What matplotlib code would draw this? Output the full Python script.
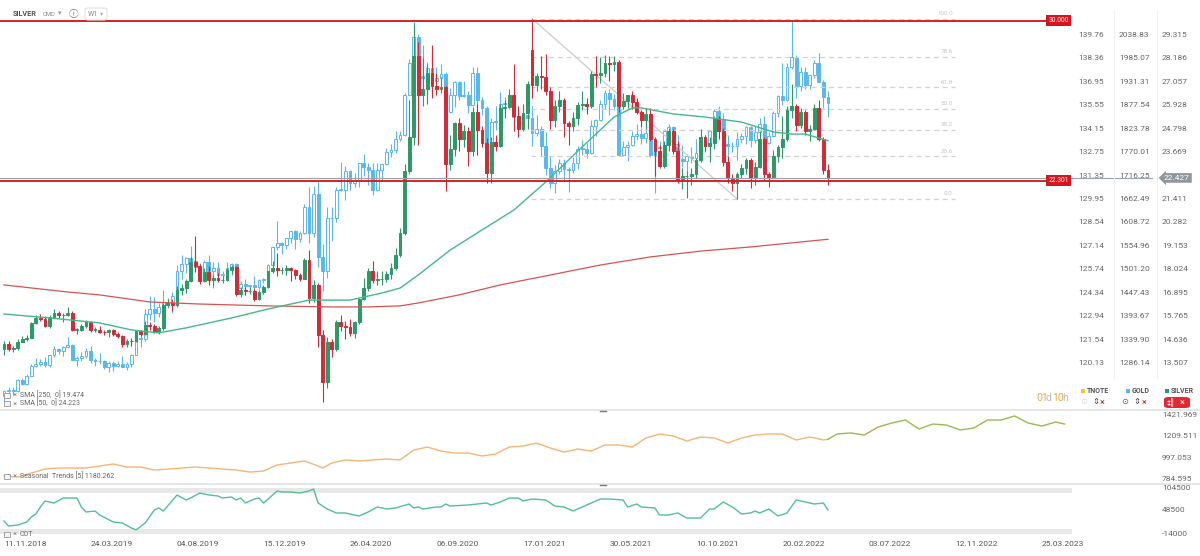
import matplotlib
matplotlib.use("Agg")
import matplotlib.pyplot as plt
from matplotlib import transforms
from matplotlib.lines import Line2D
from matplotlib.patches import FancyBboxPatch, Rectangle

# weekly candles, week 0 = week of 11.11.2018, last = week of 01.05.2022
silver_open = [14.20, 14.42, 14.18, 14.21, 14.53, 14.65, 14.72,
    15.45, 15.70, 15.63, 15.30, 15.72, 15.92, 15.80, 15.80, 15.90, 15.10, 15.12, 15.28, 15.50, 15.10, 15.10, 15.00, 14.98, 15.10, 14.92, 14.80,
    14.40, 14.58, 14.55, 15.05, 14.90, 15.35, 15.30, 15.00, 15.20, 16.30, 16.38, 16.30, 17.05, 17.10, 17.48, 18.38, 18.18, 17.48, 17.88, 17.53,
    17.60, 17.50, 17.52, 18.00, 18.14, 16.81, 17.04, 16.97, 16.98, 16.57, 16.92, 17.17,
    17.93, 18.10, 17.98, 18.00, 18.07, 18.00, 17.73, 17.58, 18.48, 16.62, 17.25, 14.85, 12.60, 14.50, 14.20, 15.50, 15.30, 15.25, 14.95, 15.48,
    16.60, 17.12, 17.95, 17.50, 17.55, 17.58, 17.78, 18.10, 18.72, 19.75, 22.75, 24.40, 28.30, 26.40, 26.70, 27.50, 26.85, 26.70, 26.80, 23.10,
    23.80, 25.05, 24.30, 24.70, 23.70, 25.60, 24.75, 24.10, 22.65, 24.15, 23.95, 25.80,
    25.85, 26.40, 25.40, 24.80, 25.55, 28.60, 26.90, 27.35, 27.30, 26.60, 25.20, 25.90, 26.20, 25.05, 24.95, 25.30, 25.95, 26.00, 25.90, 27.45,
    27.40, 27.50, 27.95, 27.90, 28.00, 25.90, 26.15, 26.40, 26.10, 25.60, 25.20, 25.50, 24.30, 23.70, 23.00, 24.00, 24.70, 23.70, 22.35, 22.50,
    22.50, 22.60, 23.30, 24.40, 23.95, 24.10, 25.30, 24.70, 23.20, 22.40, 22.20, 22.60, 22.90,
    23.30, 22.40, 22.95, 24.30, 22.60, 22.45, 23.50, 23.90, 24.30, 25.70, 25.90, 25.00, 25.60, 24.70, 24.80, 25.80, 24.30, 22.80]
silver_high = [14.55, 14.55, 14.35, 14.65, 14.80, 14.85, 15.50,
    15.80, 15.85, 15.75, 15.80, 16.10, 16.00, 15.90, 16.20, 16.00, 15.20, 15.40, 15.60, 15.55, 15.25, 15.30, 15.10, 15.15, 15.15, 14.98, 14.85,
    14.65, 14.70, 15.10, 15.10, 15.55, 15.50, 15.40, 15.30, 16.40, 16.60, 16.60, 17.20, 17.30, 17.55, 18.60, 19.65, 18.30, 18.10, 18.20, 17.75,
    17.85, 17.70, 18.10, 18.25, 18.20, 17.15, 17.15, 17.15, 17.10, 17.05, 17.25, 17.95,
    18.40, 18.80, 18.15, 18.25, 18.15, 18.05, 17.85, 18.55, 18.95, 17.50, 17.35, 15.10, 14.75, 14.65, 15.60, 15.80, 15.55, 15.65, 15.55, 16.65,
    17.60, 18.10, 18.40, 17.95, 17.95, 17.95, 18.35, 19.05, 20.00, 23.10, 26.20, 29.85, 29.00, 28.20, 27.90, 28.85, 27.50, 27.30, 26.85, 24.50,
    25.10, 25.30, 25.00, 24.90, 25.85, 26.00, 24.95, 24.35, 24.40, 24.50, 26.00, 26.20,
    26.70, 27.90, 25.90, 26.00, 27.10, 30.10, 27.50, 28.30, 28.40, 26.80, 26.20, 26.60, 26.30, 25.15, 25.60, 26.10, 26.60, 26.30, 27.60, 28.30,
    28.25, 28.35, 28.30, 28.30, 28.10, 26.50, 26.40, 26.60, 26.30, 25.70, 25.80, 25.80, 24.40, 24.00, 24.20, 24.85, 24.80, 24.20, 22.90, 22.75,
    22.90, 23.40, 24.80, 24.50, 24.40, 25.40, 25.40, 24.85, 23.50, 22.60, 22.70, 23.10, 23.40,
    23.40, 23.20, 24.70, 24.40, 22.70, 23.75, 24.00, 25.40, 25.90, 26.95, 26.00, 25.80, 25.70, 25.00, 26.00, 26.20, 24.40, 23.10]
silver_low = [13.90, 14.10, 14.05, 14.15, 14.50, 14.55, 14.70,
    15.40, 15.55, 15.25, 15.20, 15.70, 15.70, 15.50, 15.75, 15.05, 14.90, 15.05, 15.20, 15.00, 15.00, 14.95, 14.85, 14.75, 14.80, 14.70, 14.30,
    14.30, 14.35, 14.50, 14.80, 14.85, 15.10, 14.95, 14.90, 15.10, 16.20, 16.00, 16.20, 16.80, 16.90, 17.40, 17.90, 17.30, 17.40, 17.25, 17.20,
    17.40, 17.35, 17.45, 17.80, 16.75, 16.70, 16.80, 16.85, 16.50, 16.55, 16.85, 17.10,
    17.85, 17.70, 17.80, 17.75, 17.45, 17.55, 17.45, 17.55, 16.40, 16.45, 14.30, 11.64, 12.30, 13.80, 14.10, 15.05, 14.65, 14.80, 14.70, 15.40,
    16.55, 17.00, 17.35, 17.25, 17.25, 17.40, 17.55, 18.00, 18.60, 19.70, 22.60, 24.00, 24.00, 25.90, 26.00, 26.30, 26.40, 26.50, 21.80, 22.80,
    23.50, 23.70, 23.90, 23.00, 23.50, 23.55, 23.90, 22.20, 22.20, 23.70, 23.90, 25.30,
    25.80, 24.70, 24.40, 24.70, 24.80, 26.30, 26.60, 26.70, 26.40, 24.80, 24.90, 25.60, 24.40, 24.00, 24.70, 25.00, 25.70, 25.50, 25.80, 26.80,
    27.00, 27.30, 27.10, 27.60, 25.60, 25.75, 25.80, 25.75, 25.50, 24.90, 24.80, 24.20, 22.50, 22.90, 22.90, 23.70, 23.60, 22.20, 21.90, 21.45,
    22.10, 22.40, 23.20, 23.70, 23.20, 23.80, 24.30, 23.00, 22.20, 21.80, 21.42, 22.40, 22.60,
    21.95, 22.10, 22.90, 22.30, 22.00, 22.40, 23.20, 23.40, 24.20, 25.30, 24.70, 24.85, 24.50, 24.20, 24.75, 24.20, 22.60, 22.10]
silver_close = [14.42, 14.18, 14.21, 14.53, 14.65, 14.72, 15.45,
    15.70, 15.63, 15.30, 15.72, 15.92, 15.80, 15.80, 15.90, 15.10, 15.12, 15.28, 15.50, 15.10, 15.10, 15.00, 14.98, 15.10, 14.92, 14.80, 14.40,
    14.58, 14.55, 15.05, 14.90, 15.35, 15.30, 15.00, 15.20, 16.30, 16.38, 16.30, 17.05, 17.10, 17.48, 18.38, 18.18, 17.48, 17.88, 17.53, 17.60,
    17.50, 17.52, 18.00, 18.14, 16.81, 17.04, 16.97, 16.98, 16.57, 16.92, 17.17, 17.93,
    18.10, 17.98, 18.00, 18.07, 18.00, 17.73, 17.58, 18.48, 16.62, 17.25, 14.85, 12.60, 14.50, 14.20, 15.50, 15.30, 15.25, 14.95, 15.48, 16.60,
    17.12, 17.95, 17.50, 17.55, 17.58, 17.78, 18.10, 18.72, 19.75, 22.75, 24.40, 28.30, 26.40, 26.70, 27.50, 26.85, 26.70, 26.80, 23.10, 23.80,
    25.05, 24.30, 24.70, 23.70, 25.60, 24.75, 24.10, 22.65, 24.15, 23.95, 25.80, 25.85,
    26.40, 25.40, 24.80, 25.55, 26.95, 26.90, 27.35, 27.30, 26.60, 25.20, 25.90, 26.20, 25.05, 24.95, 25.30, 25.95, 26.00, 25.90, 27.45, 27.40,
    27.50, 27.95, 27.90, 28.00, 25.90, 26.15, 26.40, 26.10, 25.60, 25.20, 25.50, 24.30, 23.70, 23.00, 24.00, 24.70, 23.70, 22.35, 22.50, 22.50,
    22.60, 23.30, 24.40, 23.95, 24.10, 25.30, 24.70, 23.20, 22.40, 22.20, 22.60, 22.90, 23.30,
    22.40, 22.95, 24.30, 22.60, 22.45, 23.50, 23.90, 24.30, 25.70, 25.90, 25.00, 25.60, 24.70, 24.80, 25.80, 24.30, 22.80, 22.43]

gold_open = [1210, 1222, 1223, 1222, 1248, 1238, 1257,
    1280, 1285, 1288, 1282, 1304, 1318, 1314, 1322, 1328, 1294, 1298, 1302, 1313, 1292, 1291, 1290, 1276, 1286, 1279, 1285,
    1277, 1284, 1305, 1341, 1341, 1399, 1409, 1400, 1415, 1426, 1419, 1440, 1497, 1513, 1527, 1520, 1507, 1488, 1517, 1497,
    1505, 1489, 1490, 1505, 1514, 1459, 1468, 1462, 1465, 1460, 1476, 1479,
    1510, 1552, 1561, 1557, 1572, 1589, 1570, 1584, 1643, 1585, 1674, 1530, 1498, 1618, 1620, 1683, 1683, 1727, 1700, 1703,
    1744, 1735, 1730, 1684, 1730, 1743, 1771, 1775, 1799, 1810, 1902, 1975, 2035, 1944, 1940, 1964, 1934, 1941, 1950, 1861,
    1900, 1930, 1899, 1902, 1879, 1951, 1889, 1871, 1788, 1839, 1839, 1881,
    1883, 1898, 1850, 1828, 1856, 1848, 1814, 1824, 1784, 1734, 1700, 1727, 1745, 1732, 1729, 1744, 1777, 1777, 1769, 1831,
    1844, 1881, 1905, 1892, 1877, 1764, 1781, 1787, 1808, 1812, 1802, 1814, 1763, 1780, 1781, 1818, 1828, 1788, 1754, 1750,
    1761, 1757, 1768, 1793, 1783, 1818, 1865, 1846, 1788, 1783, 1783, 1799, 1808,
    1828, 1797, 1817, 1835, 1791, 1807, 1859, 1898, 1889, 1966, 1988, 1921, 1954, 1925, 1946, 1975, 1931, 1897]
gold_high = [1225, 1230, 1230, 1250, 1252, 1262, 1284,
    1298, 1296, 1299, 1305, 1326, 1320, 1326, 1347, 1330, 1302, 1311, 1320, 1325, 1298, 1310, 1293, 1290, 1290, 1291, 1303,
    1289, 1306, 1348, 1358, 1411, 1439, 1438, 1425, 1453, 1435, 1449, 1510, 1535, 1530, 1555, 1557, 1515, 1523, 1535, 1519,
    1517, 1497, 1518, 1516, 1516, 1475, 1478, 1466, 1485, 1480, 1482, 1514,
    1555, 1612, 1564, 1574, 1590, 1592, 1590, 1650, 1689, 1692, 1703, 1560, 1645, 1645, 1690, 1748, 1738, 1730, 1722, 1745,
    1765, 1745, 1745, 1744, 1745, 1780, 1789, 1818, 1818, 1906, 1984, 2075, 2040, 2015, 1977, 2000, 1966, 1973, 1955, 1917,
    1933, 1933, 1933, 1911, 1965, 1966, 1897, 1875, 1848, 1875, 1907, 1896,
    1900, 1959, 1863, 1875, 1875, 1875, 1855, 1830, 1816, 1760, 1740, 1755, 1755, 1736, 1759, 1785, 1797, 1790, 1843, 1846,
    1890, 1913, 1916, 1903, 1880, 1795, 1795, 1818, 1834, 1825, 1832, 1832, 1785, 1795, 1824, 1834, 1831, 1809, 1787, 1765,
    1781, 1800, 1814, 1810, 1818, 1869, 1877, 1860, 1809, 1793, 1816, 1814, 1831,
    1830, 1830, 1848, 1854, 1816, 1865, 1902, 1974, 1975, 2070, 1993, 1966, 1966, 1950, 1982, 1998, 1936, 1910]
gold_low = [1196, 1218, 1212, 1220, 1236, 1235, 1256,
    1276, 1280, 1278, 1276, 1300, 1306, 1302, 1320, 1292, 1280, 1290, 1298, 1287, 1280, 1285, 1272, 1266, 1267, 1276, 1276,
    1269, 1276, 1304, 1322, 1337, 1385, 1381, 1391, 1401, 1413, 1400, 1440, 1480, 1492, 1517, 1506, 1485, 1484, 1485, 1459,
    1484, 1474, 1483, 1487, 1456, 1446, 1457, 1450, 1458, 1456, 1470, 1478,
    1510, 1546, 1536, 1547, 1562, 1548, 1563, 1583, 1562, 1575, 1506, 1451, 1482, 1567, 1610, 1681, 1660, 1682, 1690, 1690,
    1716, 1694, 1671, 1680, 1704, 1741, 1758, 1768, 1795, 1808, 1900, 1963, 1863, 1911, 1902, 1916, 1906, 1934, 1848, 1860,
    1873, 1890, 1896, 1860, 1876, 1850, 1855, 1764, 1776, 1820, 1835, 1855,
    1870, 1836, 1808, 1826, 1831, 1785, 1807, 1760, 1717, 1687, 1676, 1719, 1706, 1678, 1721, 1731, 1763, 1756, 1766, 1808,
    1842, 1870, 1855, 1866, 1761, 1760, 1750, 1784, 1797, 1789, 1790, 1759, 1677, 1772, 1776, 1800, 1782, 1745, 1737, 1721,
    1746, 1750, 1760, 1770, 1758, 1812, 1846, 1780, 1762, 1771, 1753, 1790, 1789,
    1782, 1790, 1806, 1780, 1788, 1807, 1850, 1878, 1887, 1960, 1895, 1910, 1915, 1915, 1940, 1930, 1872, 1850]
gold_close = [1222, 1223, 1222, 1248, 1238, 1257, 1280,
    1285, 1288, 1282, 1304, 1318, 1314, 1322, 1328, 1294, 1298, 1302, 1313, 1292, 1291, 1290, 1276, 1286, 1279, 1285, 1277,
    1284, 1305, 1341, 1341, 1399, 1409, 1400, 1415, 1426, 1419, 1440, 1497, 1513, 1527, 1520, 1507, 1488, 1517, 1497, 1505,
    1489, 1490, 1505, 1514, 1459, 1468, 1462, 1465, 1460, 1476, 1479, 1510,
    1552, 1561, 1557, 1572, 1589, 1570, 1584, 1643, 1585, 1674, 1530, 1498, 1618, 1620, 1683, 1683, 1727, 1700, 1703, 1744,
    1735, 1730, 1684, 1730, 1743, 1771, 1775, 1799, 1810, 1902, 1975, 2035, 1944, 1940, 1964, 1934, 1941, 1950, 1861, 1900,
    1930, 1899, 1902, 1879, 1951, 1889, 1871, 1788, 1839, 1839, 1881, 1883,
    1898, 1850, 1828, 1856, 1848, 1814, 1824, 1784, 1734, 1700, 1727, 1745, 1732, 1729, 1744, 1777, 1777, 1769, 1831, 1844,
    1881, 1905, 1892, 1877, 1764, 1781, 1787, 1808, 1812, 1802, 1814, 1763, 1780, 1781, 1818, 1828, 1788, 1754, 1750, 1761,
    1757, 1768, 1793, 1783, 1818, 1865, 1846, 1788, 1783, 1783, 1799, 1808, 1828,
    1797, 1817, 1835, 1791, 1807, 1859, 1898, 1889, 1966, 1988, 1921, 1954, 1925, 1946, 1975, 1931, 1897, 1883]

# moving averages (week, value)
sma250_week = [0, 14, 21, 32, 43, 58, 72, 80, 87, 91, 100, 109, 120, 131, 142, 153, 164, 175, 181]
sma250_value = [17.27, 16.93, 16.79, 16.45, 16.35, 16.26, 16.21, 16.21, 16.26, 16.40, 16.79, 17.27, 17.75,
                18.23, 18.62, 18.90, 19.10, 19.34, 19.47]
sma50_week = [0, 10, 21, 28, 34, 40, 50, 58, 67, 76, 83, 87, 91, 98, 105, 112, 119, 127, 134, 138, 140,
              147, 154, 162, 169, 173, 176, 181]
sma50_value = [15.87, 15.68, 15.44, 15.10, 14.96, 15.20, 15.68, 16.11, 16.54, 16.54, 16.88, 17.12, 17.75,
               18.95, 19.92, 20.88, 22.23, 23.92, 25.36, 25.80, 25.80, 25.51, 25.36, 25.12, 24.64, 24.54, 24.54, 24.22]

seasonal_week = [0, 3, 6, 9, 12, 15, 18, 21, 24, 27, 30, 33, 36, 39, 42, 45, 48, 51, 54, 57, 60, 63, 66, 69, 70,
                 72, 75, 78, 81, 84, 87, 90, 93, 96, 99, 102, 105, 108, 111, 114, 117, 120, 123, 126, 129, 132,
                 135, 138, 141, 144, 147, 150, 153, 156, 159, 162, 165, 168, 171, 174, 177, 180, 181, 183, 186,
                 189, 192, 195, 198, 201, 204, 207, 210, 213, 216, 219, 222, 225, 228, 231, 233]
seasonal_value = [814, 804, 844, 884, 894, 894, 894, 914, 934, 904, 904, 874, 884, 894, 904, 894, 884, 874, 854,
                  864, 924, 944, 964, 914, 894, 944, 974, 964, 974, 984, 974, 1073, 1103, 1063, 1043, 1043, 1014,
                  1034, 1103, 1113, 1143, 1093, 1053, 1083, 1063, 1123, 1123, 1103, 1193, 1233, 1213, 1163, 1203,
                  1193, 1143, 1193, 1223, 1233, 1233, 1173, 1203, 1173, 1180, 1233, 1243, 1223, 1302, 1342, 1372,
                  1282, 1332, 1322, 1273, 1292, 1372, 1372, 1412, 1342, 1312, 1352, 1332]

cot_week = [0, 1, 3, 5, 6, 7, 8, 9, 11, 13, 16, 17, 18, 20, 21, 24, 26, 28, 29, 31, 33, 34, 35, 38, 40, 41, 43,
            45, 47, 48, 50, 51, 52, 53, 55, 56, 57, 60, 61, 63, 65, 67, 68, 69, 71, 73, 75, 78, 80, 82, 84, 86,
            89, 90, 91, 92, 95, 96, 97, 98, 102, 106, 107, 109, 111, 113, 114, 116, 119, 121, 123, 125, 127, 131,
            133, 136, 137, 139, 140, 143, 144, 146, 148, 150, 153, 155, 156, 158, 160, 162, 164, 165, 166, 168,
            170, 172, 174, 176, 178, 180, 181]
cot_value = [19490, 6610, 9190, 16920, 29800, 37520, 55560, 71010, 65860, 78740, 78740, 55560, 42680, 45260,
             34950, 16920, 14340, 1460, -3690, 14340, 47830, 52980, 45260, 86470, 73590, 78740, 91620, 86470,
             83890, 78740, 81320, 73590, 78740, 65860, 76160, 78740, 65860, 96770, 94200, 94200, 91620, 96770,
             101920, 65860, 50400, 40100, 40100, 32370, 42680, 55560, 50400, 52980, 63280, 52980, 55560, 50400,
             55560, 55560, 63280, 58130, 60700, 65860, 60700, 68440, 78740, 78740, 71010, 76160, 73590, 58130,
             55560, 45260, 55560, 76160, 76160, 73590, 55560, 63280, 55560, 52980, 34950, 34950, 40100, 27220,
             27220, 50400, 50400, 68440, 55560, 37520, 40100, 45260, 40100, 50400, 32370, 40100, 73590, 68440,
             63280, 65860, 47830]

# axis labels
silver_ticks = [13.507, 14.636, 15.765, 16.895, 18.024, 19.153, 20.282, 21.411,
                23.669, 24.798, 25.928, 27.057, 28.186, 29.315]
gold_ticks = [1286.14, 1339.90, 1393.67, 1447.43, 1501.20, 1554.96, 1608.72, 1662.49,
              1716.25, 1770.01, 1823.78, 1877.54, 1931.31, 1985.07, 2038.83]
tnote_ticks = [120.13, 121.54, 122.94, 124.34, 125.74, 127.14, 128.54, 129.95,
               131.35, 132.75, 134.15, 135.55, 136.95, 138.36, 139.76]
seasonal_ticks = [1421.969, 1209.511, 997.053, 784.595]
cot_ticks = [104500, 48500, -14000]
date_weeks = [0, 19, 38, 57, 76, 95, 114, 133, 152, 171, 190, 209, 228]
date_labels = ['11.11.2018', '24.03.2019', '04.08.2019', '15.12.2019', '26.04.2020', '06.09.2020',
               '17.01.2021', '30.05.2021', '10.10.2021', '20.02.2022', '03.07.2022', '12.11.2022', '25.03.2023']
level_values = [30.000, 22.301]
fib_pcts = [0.0, 23.6, 38.2, 50.0, 61.8, 78.6, 100.0]
last_price = 22.427

plt.rcParams['font.family'] = ['Roboto', 'DejaVu Sans', 'Noto Sans CJK JP']

GOLD_C = '#5ab8ec'
GREEN = '#2b9b66'
RED = '#d42a36'
LINE_RED = '#d81f26'
TXT = '#666666'

W, H = 1200, 556
fig = plt.figure(figsize=(W / 100, H / 100), dpi=100)


def fx(x):
    return x / W


def fy(y):
    return 1 - y / H


def ftext(x, y, s, **kw):
    kw.setdefault('va', 'center')
    return fig.text(fx(x), fy(y), s, **kw)


X0, X1 = -0.88, 234.6
PLOT_R = 1072
S_LIM = (11.34, 31.0)

ax_g = fig.add_axes([0, fy(408), fx(PLOT_R), 408 / H])
ax_s = ax_g.twinx()
ax_seas = fig.add_axes([0, fy(481), fx(PLOT_R), 70 / H])
ax_cot = fig.add_axes([0, fy(537), fx(PLOT_R), 51 / H])
for a in (ax_g, ax_s, ax_seas, ax_cot):
    a.set_xlim(X0, X1)
    for sp in a.spines.values():
        sp.set_visible(False)
    a.set_xticks([])
    a.set_yticks([])
    a.patch.set_alpha(0)

# gold is drawn on its own scale, lined up with the silver scale
s0, s1 = silver_ticks[0], silver_ticks[-1]
g0, g1 = gold_ticks[0], gold_ticks[-1]


def s2g(s):
    return g0 + (s - s0) * (g1 - g0) / (s1 - s0)


ax_s.set_ylim(*S_LIM)
ax_g.set_ylim(s2g(S_LIM[0]), s2g(S_LIM[1]))


def candles(ax, o, h, l, c, up_fc, up_ec, dn_fc, dn_ec, min_h, z):
    weeks = list(range(len(c)))
    up = [cc >= oo for oo, cc in zip(o, c)]
    ax.vlines(weeks, l, h, colors=[up_ec if u else dn_ec for u in up], lw=0.8, zorder=z)
    bottoms = [min(oo, cc) for oo, cc in zip(o, c)]
    heights = [max(abs(cc - oo), min_h) for oo, cc in zip(o, c)]
    ax.bar(weeks, heights, bottom=bottoms, width=0.62,
           color=[up_fc if u else dn_fc for u in up],
           edgecolor=[up_ec if u else dn_ec for u in up], linewidth=0.7, zorder=z + 0.1)


candles(ax_g, gold_open, gold_high, gold_low, gold_close, 'white', GOLD_C, GOLD_C, GOLD_C, 1.5, 2)

# fibonacci retracement from the Feb 2021 high to the Dec 2021 low
fib_hi_w = silver_high.index(max(silver_high))
fib_hi = silver_high[fib_hi_w]
fib_lo = min(silver_low[fib_hi_w:])
fib_lo_w = silver_low.index(fib_lo, fib_hi_w)
fib_end = 209
for p in fib_pcts:
    lvl = fib_lo + (fib_hi - fib_lo) * p / 100
    ax_s.hlines(lvl, fib_hi_w - 0.3, fib_end, colors='#d2d2d2', linestyles=(0, (4, 3)), lw=0.9, zorder=1)
    ax_s.annotate(f'{p:.1f}', (fib_end - 0.6, lvl), xytext=(0, 2), textcoords='offset points',
                  ha='right', va='bottom', fontsize=4.5, color='#c4c4c4')
ax_s.plot([fib_hi_w, fib_lo_w], [fib_hi, fib_lo], color='#cdcdcd', lw=0.9, zorder=1)

candles(ax_s, silver_open, silver_high, silver_low, silver_close, GREEN, GREEN, RED, RED, 0.03, 2)

ax_s.plot(sma250_week, sma250_value, color='#d9534f', lw=0.9, zorder=3)
ax_s.plot(sma50_week, sma50_value, color='#45b98a', lw=1.0, zorder=3)

blend_s = transforms.blended_transform_factory(fig.transFigure, ax_s.transData)
blend_g = transforms.blended_transform_factory(fig.transFigure, ax_g.transData)

for lvl in level_values:
    ax_s.axhline(lvl, xmin=0, xmax=1045 / PLOT_R, color=LINE_RED, lw=1.4, zorder=5)
    ax_s.text(fx(1058.5), lvl, f'{lvl:.3f}', transform=blend_s, ha='center', va='center',
              fontsize=4.8, color='white', zorder=6,
              bbox=dict(boxstyle='square,pad=0.3', fc='#d9141e', ec='none'))

ax_s.add_line(Line2D([0, fx(1152)], [last_price, last_price], transform=blend_s,
                     color='#9ca3a9', lw=0.8, clip_on=False, zorder=4))
ax_s.text(fx(1177), last_price, f'{last_price:.3f}', transform=blend_s, ha='center', va='center',
          fontsize=6, color='white', zorder=7,
          bbox=dict(boxstyle='larrow,pad=0.22', fc='#8f979d', ec='none'))

# price columns on the right
for tv, gv in zip(tnote_ticks, gold_ticks):
    ax_g.text(fx(1078), gv, f'{tv:.2f}', transform=blend_g, ha='left', va='center', fontsize=6, color=TXT)
    ax_g.text(fx(1119), gv, f'{gv:.2f}', transform=blend_g, ha='left', va='center', fontsize=6, color=TXT)
for sv in silver_ticks:
    ax_s.text(fx(1162), sv, f'{sv:.3f}', transform=blend_s, ha='left', va='center', fontsize=6, color=TXT)
for xv in (1114, 1157):
    fig.add_artist(Line2D([fx(xv), fx(xv)], [fy(10), fy(378)], color='#efefef', lw=0.8))

# seasonal trends panel
split = seasonal_week.index(181)
ax_seas.plot(seasonal_week[:split + 1], seasonal_value[:split + 1], color='#f5b577', lw=1.0)
ax_seas.plot(seasonal_week[split:], seasonal_value[split:], color='#9cb94f', lw=1.0)
ax_seas.set_ylim(764.7, 1461.8)
blend_se = transforms.blended_transform_factory(fig.transFigure, ax_seas.transData)
for v in seasonal_ticks:
    ax_seas.text(fx(1162), v, f'{v:.3f}', transform=blend_se, ha='left', va='center', fontsize=6, color=TXT)

# COT panel
ax_cot.axhspan(91600, 104500, color='#e8e8e8', lw=0)
ax_cot.axhspan(-14000, -1100, color='#e8e8e8', lw=0)
ax_cot.plot(cot_week, cot_value, color='#52c092', lw=1.0)
ax_cot.set_ylim(-21720, 109650)
blend_c = transforms.blended_transform_factory(fig.transFigure, ax_cot.transData)
for v in cot_ticks:
    ax_cot.text(fx(1162), v, f'{v}', transform=blend_c, ha='left', va='center', fontsize=6, color=TXT)

ax_cot.set_xticks(date_weeks)
ax_cot.set_xticklabels(date_labels, ha='left', fontsize=6, color='#555555')
ax_cot.tick_params(axis='x', length=0, pad=3)

# panel separators
for yy in (409.5, 483.5):
    fig.add_artist(Line2D([0, 1], [fy(yy), fy(yy)], color='#e2e2e2', lw=1.2))
    fig.add_artist(Line2D([fx(600), fx(606)], [fy(yy + 1), fy(yy + 1)], color='#777777', lw=1.0))

# header
ftext(13, 14, 'SILVER', fontsize=5.2, fontweight='bold', color='#555555')
ftext(43, 14, 'CMD', fontsize=4.2, color='#888888')
ftext(58, 13.5, '▾', fontsize=5, color='#999999')
ftext(69, 14, 'ⓘ', fontsize=7, color='#777777', family=['Noto Sans CJK JP', 'DejaVu Sans'])
fig.add_artist(FancyBboxPatch((fx(85), fy(20)), fx(22), 12 / H, boxstyle='round,pad=0,rounding_size=0.003',
                              transform=fig.transFigure, fc='white', ec='#e2e2e2', lw=0.8))
ftext(88, 14, 'W1', fontsize=5, color='#888888')
ftext(100, 13.5, '▾', fontsize=4.5, color='#aaaaaa')


# indicator legends
def legend_row(y, label):
    fig.add_artist(Rectangle((fx(4), fy(y + 2.5)), fx(6), 5 / H, transform=fig.transFigure,
                             fc='#f4f4f4', ec='#999999', lw=0.6))
    ftext(12.5, y, '×', fontsize=5.5, color='#888888')
    ftext(20, y, label, fontsize=5, color=TXT)


legend_row(395, 'SMA [250,  0] 19.474')
legend_row(403.5, 'SMA [50,  0] 24.223')
legend_row(476, 'Seasonal  Trends [5] 1180.262')
legend_row(534, 'COT')

# countdown and series switches
ftext(1036, 398, '01', fontsize=7.5, color='#f2a54a')
ftext(1046, 398, 'd', fontsize=7.5, color='#bbbbbb')
ftext(1052, 398, '10', fontsize=7.5, color='#f2a54a')
ftext(1062.5, 398, 'h', fontsize=7.5, color='#bbbbbb')

for xs, col, name in ((1081, '#f3c623', 'TNOTE'), (1126, GOLD_C, 'GOLD'), (1165, GREEN, 'SILVER')):
    fig.add_artist(Rectangle((fx(xs), fy(393)), fx(4), 4 / H, transform=fig.transFigure, fc=col, ec='none'))
    ftext(xs + 6, 391, name, fontsize=5, fontweight='bold', color='#555555')
ftext(1080, 402, '⊙', fontsize=6, color='#d8d8d8')
ftext(1092, 402, '⇕', fontsize=6, color='#444444')
ftext(1100, 402, '×', fontsize=6.5, color='#d9141e')
ftext(1121, 402, '⊙', fontsize=6, color='#555555')
ftext(1133, 402, '⇕', fontsize=6, color='#444444')
ftext(1142, 402, '×', fontsize=6.5, color='#d9141e')
fig.add_artist(FancyBboxPatch((fx(1164), fy(408)), fx(26), 11 / H, boxstyle='round,pad=0,rounding_size=0.004',
                              transform=fig.transFigure, fc='#e02a31', ec='none'))
ftext(1167, 402.5, '‡‖', fontsize=5.5, color='white')
ftext(1180, 402.5, '×', fontsize=6.5, color='white')

fig.savefig('out.png', dpi=100)
